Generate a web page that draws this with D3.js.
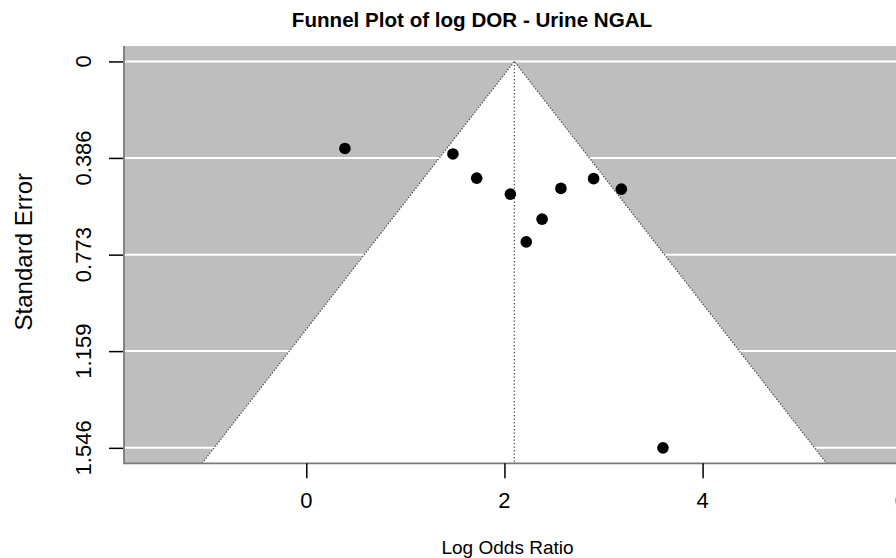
<!DOCTYPE html>
<html>
<head>
<meta charset="utf-8">
<script src="https://cdn.jsdelivr.net/npm/d3@7/dist/d3.min.js"></script>
<style>
  html, body { margin: 0; padding: 0; background: #fff; }
  svg { display: block; font-family: "Liberation Sans", Arial, sans-serif; }
</style>
</head>
<body>
<svg id="chart" width="896" height="558"></svg>
<script>
// Study-level log diagnostic odds ratios and their standard errors
const logDOR = [0.39, 1.48, 1.72, 2.06, 2.57, 2.90, 3.18, 2.38, 2.22, 3.60];
const stdErr = [0.348, 0.370, 0.467, 0.531, 0.508, 0.469, 0.511, 0.631, 0.722, 1.546];
// Pooled estimate (funnel apex)
const pooled = [2.10];
// Axis ticks
const xTicks = [0, 2, 4, 6];
const yTicks = [0, 0.386, 0.773, 1.159, 1.546];
const yTickLabels = ["0", "0.386", "0.773", "1.159", "1.546"];

const svg = d3.select("#chart");
const est = pooled[0];
const seMax = d3.max(stdErr);
const z = 1.96;

const plot = { left: 124, top: 46, bottom: 463.3, right: 904.7 };
const ypad = seMax * 0.04;

const x = d3.scaleLinear().domain([-1.84, 6.04]).range([plot.left, plot.right]);
const y = d3.scaleLinear().domain([-ypad, seMax + ypad]).range([plot.top, plot.bottom]);

const clipW = 896;
svg.append("clipPath").attr("id", "panel")
  .append("rect")
  .attr("x", plot.left).attr("y", plot.top)
  .attr("width", clipW - plot.left).attr("height", plot.bottom - plot.top);

const g = svg.append("g").attr("clip-path", "url(#panel)");

// grey background
g.append("rect")
  .attr("x", plot.left).attr("y", plot.top)
  .attr("width", plot.right - plot.left).attr("height", plot.bottom - plot.top)
  .attr("fill", "#bebebe");

// white reference lines at the y ticks
g.selectAll("line.grid").data(yTicks).join("line")
  .attr("class", "grid")
  .attr("x1", plot.left).attr("x2", plot.right)
  .attr("y1", d => y(d)).attr("y2", d => y(d))
  .attr("stroke", "#ffffff").attr("stroke-width", 2);

// pseudo-confidence region
const seBottom = seMax + ypad;
const funnel = [
  [est - z * seBottom, seBottom],
  [est, 0],
  [est + z * seBottom, seBottom]
];
g.append("polygon")
  .attr("points", funnel.map(d => [x(d[0]), y(d[1])].join(",")).join(" "))
  .attr("fill", "#ffffff");

// funnel edges
const edge = d3.line().x(d => x(d[0])).y(d => y(d[1]));
g.append("path")
  .attr("d", edge(funnel))
  .attr("fill", "none")
  .attr("stroke", "#4a4a4a").attr("stroke-width", 1.3)
  .attr("stroke-dasharray", "1.3,1.7");

// vertical line at the pooled estimate
g.append("line")
  .attr("x1", x(est)).attr("x2", x(est))
  .attr("y1", y(0)).attr("y2", y(seBottom))
  .attr("stroke", "#4a4a4a").attr("stroke-width", 1.3)
  .attr("stroke-dasharray", "1.3,2.2");

// studies
g.selectAll("circle.study").data(logDOR).join("circle")
  .attr("class", "study")
  .attr("cx", d => x(d))
  .attr("cy", (d, i) => y(stdErr[i]))
  .attr("r", 5.8)
  .attr("fill", "#000");

// L-shaped box
svg.append("path")
  .attr("d", `M${plot.left},${plot.top}V${plot.bottom}H${clipW}`)
  .attr("fill", "none").attr("stroke", "#7a7a7a").attr("stroke-width", 1.8);

// y axis ticks
const yAxis = d3.axisLeft(y).tickValues(yTicks).tickSize(14).tickFormat("");
const yg = svg.append("g").attr("transform", `translate(${plot.left - 1},0)`).call(yAxis);
yg.select(".domain").remove();
yg.selectAll(".tick line").attr("stroke", "#000").attr("stroke-width", 1.5);

svg.selectAll("text.ytick").data(yTicks).join("text")
  .attr("class", "ytick")
  .attr("transform", (d, i) => `translate(83,${y(d)}) rotate(-90)`)
  .attr("text-anchor", "middle")
  .attr("dominant-baseline", "central")
  .attr("font-size", 22)
  .attr("fill", "#000")
  .text((d, i) => yTickLabels[i]);

// x axis ticks
const xAxis = d3.axisBottom(x).tickValues(xTicks).tickSize(15).tickFormat("");
const xg = svg.append("g").attr("transform", `translate(0,${plot.bottom})`).call(xAxis);
xg.select(".domain").remove();
xg.selectAll(".tick line").attr("stroke", "#000").attr("stroke-width", 1.5);

svg.selectAll("text.xtick").data(xTicks).join("text")
  .attr("class", "xtick")
  .attr("x", d => x(d))
  .attr("y", 508)
  .attr("text-anchor", "middle")
  .attr("font-size", 22)
  .attr("fill", "#000")
  .text(d => d);

// titles
svg.append("text")
  .attr("x", 472).attr("y", 27)
  .attr("text-anchor", "middle")
  .attr("font-size", 20.6).attr("font-weight", "bold")
  .text("Funnel Plot of log DOR - Urine NGAL");

svg.append("text")
  .attr("x", 507.5).attr("y", 554)
  .attr("text-anchor", "middle")
  .attr("font-size", 19)
  .text("Log Odds Ratio");

svg.append("text")
  .attr("transform", "translate(23,251.7) rotate(-90)")
  .attr("text-anchor", "middle")
  .attr("dominant-baseline", "central")
  .attr("font-size", 24)
  .text("Standard Error");
</script>
</body>
</html>
